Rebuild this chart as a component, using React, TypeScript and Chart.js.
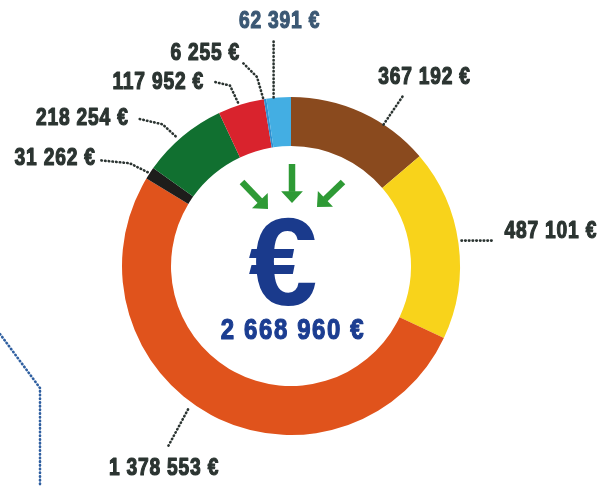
import React, { useEffect, useRef } from "react";
import { Chart, registerables } from "chart.js";

Chart.register(...registerables);

const categories = ["A", "B", "C", "D", "E", "F", "G", "H"];
const values = [367192, 487101, 1378553, 31262, 218254, 117952, 6255, 62391];
const valueLabels = ["367 192 €", "487 101 €", "1 378 553 €", "31 262 €", "218 254 €", "117 952 €", "6 255 €", "62 391 €"];
const totalLabel = "2 668 960 €";
const colors = ["#8a4a1e", "#f8d31b", "#e0531c", "#1d1d1b", "#117030", "#d9232d", "#2f8fcf", "#43aee3"];

// label layout: anchor fraction along arc, leader path offsets, text offset, alignment
const labelLayout = [
  { frac: 0.67, path: [[0, 0], [19, -28]], text: [41, -47], align: "center", color: "#2b3431" },
  { frac: 0.5, path: [[3, -3], [36, -3]], text: [46, -12], align: "left", color: "#2b3431" },
  { frac: 0.53, path: [[-9, 3], [-29, 40]], text: [-33, 62], align: "center", color: "#2b3431" },
  { frac: 0.5, path: [[-2, -1], [-20, -10], [-50, -13]], text: [-54, -15], align: "right", color: "#2b3431" },
  { frac: 0.5, path: [[-7, 0], [-20, -12], [-46, -18]], text: [-54, -18], align: "right", color: "#2b3431" },
  { frac: 0.5, path: [[-3, -2], [-11, -19], [-28, -23]], text: [-37, -22], align: "right", color: "#2b3431" },
  { frac: 0.5, path: [[-2, -1], [-8, -22], [-22, -36]], text: [-25, -46], align: "right", color: "#2b3431" },
  { frac: 0.5, path: [[-5, 0], [-5, -59]], text: [1, -76], align: "center", color: "#3b5874" },
];

const LABEL_FONT = "bold 24px 'Liberation Sans', Arial, sans-serif";
const SQUEEZE = 0.8;

function fillCondensed(ctx: CanvasRenderingContext2D, text: string, x: number, y: number, align: CanvasTextAlign, sx: number, weight: number) {
  ctx.save();
  ctx.translate(x, y);
  ctx.scale(sx, 1);
  ctx.textAlign = align;
  ctx.strokeStyle = ctx.fillStyle as string;
  ctx.lineWidth = weight;
  ctx.lineJoin = "round";
  ctx.setLineDash([]);
  ctx.strokeText(text, 0, 0);
  ctx.fillText(text, 0, 0);
  ctx.restore();
}

function drawArrow(ctx: CanvasRenderingContext2D, x1: number, y1: number, x2: number, y2: number) {
  const ang = Math.atan2(y2 - y1, x2 - x1);
  const head = 16;
  const bx = x2 - Math.cos(ang) * head * 0.7;
  const by = y2 - Math.sin(ang) * head * 0.7;
  ctx.beginPath();
  ctx.moveTo(x1, y1);
  ctx.lineTo(bx, by);
  ctx.stroke();
  ctx.beginPath();
  ctx.moveTo(x2, y2);
  ctx.lineTo(x2 - Math.cos(ang - 0.75) * head, y2 - Math.sin(ang - 0.75) * head);
  ctx.lineTo(x2 - Math.cos(ang + 0.75) * head, y2 - Math.sin(ang + 0.75) * head);
  ctx.closePath();
  ctx.fill();
}

const decorPlugin = {
  id: "decor",
  afterDraw(chart: any) {
    const ctx: CanvasRenderingContext2D = chart.ctx;
    const meta = chart.getDatasetMeta(0);
    ctx.save();
    meta.data.forEach((arc: any, i: number) => {
      const lay = labelLayout[i];
      const a = arc.startAngle + (arc.endAngle - arc.startAngle) * lay.frac;
      const ax = arc.x + Math.cos(a) * arc.outerRadius;
      const ay = arc.y + Math.sin(a) * arc.outerRadius;
      ctx.strokeStyle = "#2b3431";
      ctx.lineWidth = 2.6;
      ctx.lineCap = "round";
      ctx.setLineDash([0.5, 3.2]);
      ctx.beginPath();
      lay.path.forEach((p, k) => {
        if (k === 0) ctx.moveTo(ax + p[0], ay + p[1]);
        else ctx.lineTo(ax + p[0], ay + p[1]);
      });
      ctx.stroke();
      ctx.setLineDash([]);
      ctx.font = LABEL_FONT;
      (ctx as any).letterSpacing = "1px";
      ctx.fillStyle = lay.color;
      ctx.textBaseline = "middle";
      fillCondensed(ctx, valueLabels[i], ax + lay.text[0], ay + lay.text[1], lay.align as CanvasTextAlign, SQUEEZE, 1.2);
    });
    const cx = meta.data[0].x;
    const cy = meta.data[0].y;
    // green arrows
    ctx.strokeStyle = "#2e9a35";
    ctx.fillStyle = "#2e9a35";
    ctx.lineWidth = 6.5;
    ctx.lineCap = "butt";
    drawArrow(ctx, cx - 49, cy - 84, cx - 23, cy - 57);
    drawArrow(ctx, cx + 1, cy - 102, cx + 1, cy - 63);
    drawArrow(ctx, cx + 52, cy - 84, cx + 26, cy - 59);
    // euro sign
    (ctx as any).letterSpacing = "0px";
    ctx.fillStyle = "#1a3a8c";
    ctx.font = "bold 124px 'Liberation Sans', Arial, sans-serif";
    ctx.textAlign = "center";
    ctx.textBaseline = "alphabetic";
    ctx.fillText("€", cx - 8, cy + 39);
    // total
    ctx.font = "bold 30px 'Liberation Sans', Arial, sans-serif";
    (ctx as any).letterSpacing = "2px";
    ctx.textBaseline = "middle";
    ctx.fillStyle = "#1b3d91";
    fillCondensed(ctx, totalLabel, cx + 2, cy + 65, "center", SQUEEZE, 1.2);
    // decorative blue dotted line at the left edge
    (ctx as any).letterSpacing = "0px";
    ctx.strokeStyle = "#2f5fa0";
    ctx.lineWidth = 2.6;
    ctx.lineCap = "round";
    ctx.setLineDash([0.5, 3.2]);
    ctx.beginPath();
    ctx.moveTo(0, 334);
    ctx.lineTo(40, 388);
    ctx.lineTo(40, 486);
    ctx.stroke();
    ctx.restore();
  },
};

export default function App() {
  const ref = useRef<HTMLCanvasElement>(null);
  useEffect(() => {
    if (!ref.current) return;
    const chart = new Chart(ref.current, {
      type: "doughnut",
      data: {
        labels: categories,
        datasets: [
          {
            data: values,
            backgroundColor: colors,
            borderWidth: 0,
            hoverBorderWidth: 0,
            hoverOffset: 0,
            offset: 0,
          },
        ],
      },
      options: {
        animation: false,
        responsive: true,
        maintainAspectRatio: false,
        cutout: "71%",
        rotation: 0,
        events: [],
        layout: { padding: { left: 122, right: 142, top: 97, bottom: 51 } },
        plugins: { legend: { display: false }, tooltip: { enabled: false } },
      },
      plugins: [decorPlugin],
    });
    return () => chart.destroy();
  }, []);
  return (
    <div style={{ position: "fixed", left: 0, top: 0, width: 602, height: 486, background: "#fff" }}>
      <canvas ref={ref} />
    </div>
  );
}
